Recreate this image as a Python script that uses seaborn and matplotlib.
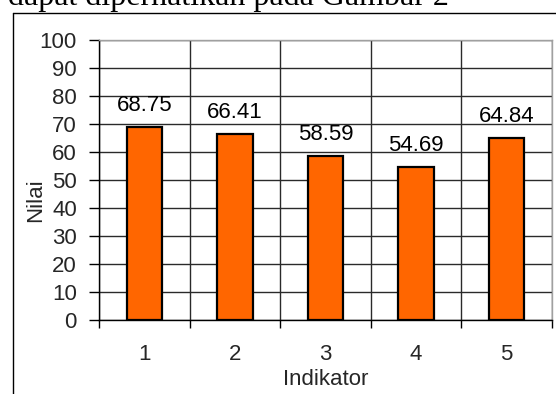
import matplotlib
matplotlib.use("Agg")
import matplotlib.pyplot as plt
import seaborn as sns
import pandas as pd
from matplotlib.lines import Line2D
from matplotlib.ticker import FixedLocator

indikator = ["1", "2", "3", "4", "5"]
nilai = [68.75, 66.41, 58.59, 54.69, 64.84]
y_ticks = [0, 10, 20, 30, 40, 50, 60, 70, 80, 90, 100]

sns.set_theme(style="white")
plt.rcParams["font.family"] = ["Liberation Sans", "DejaVu Sans"]

W, H = 556, 394
FS = 16
fig = plt.figure(figsize=(W / 100, H / 100), dpi=100)
ax = fig.add_axes([99 / W, 1 - 320 / H, (552 - 99) / W, (320 - 40) / H])

df = pd.DataFrame({"Indikator": indikator, "Nilai": nilai})
sns.barplot(data=df, x="Indikator", y="Nilai", color="#FF6600", width=0.39,
            edgecolor="black", linewidth=1.6, saturation=1, ax=ax, zorder=3)

ax.set_xlim(-0.5, len(indikator) - 0.5)
ax.set_ylim(0, 100)
ax.set_yticks(y_ticks)
ax.set_yticklabels([str(t) for t in y_ticks], fontsize=FS)

# category boundaries carry the tick marks and vertical grid lines
bounds = [i - 0.5 for i in range(len(indikator) + 1)]
ax.xaxis.set_minor_locator(FixedLocator(bounds))
ax.tick_params(axis="x", which="major", length=0, pad=17, labelsize=FS)
ax.tick_params(axis="x", which="minor", length=6, width=1, color="black",
               direction="out", bottom=True)
ax.tick_params(axis="y", which="major", length=7, width=1, color="black",
               direction="out", left=True, pad=9, labelsize=FS)

ax.grid(False)
ax.yaxis.grid(True, color="#2a2a2a", linewidth=1.0, zorder=0)
ax.xaxis.grid(True, which="minor", color="#2a2a2a", linewidth=1.0, zorder=0)
ax.set_axisbelow(True)

for side in ["left", "bottom"]:
    ax.spines[side].set_color("black")
    ax.spines[side].set_linewidth(1.0)
for side in ["top", "right"]:
    ax.spines[side].set_color("#a0a0a0")
    ax.spines[side].set_linewidth(1.0)

for i, v in enumerate(nilai):
    ax.annotate(f"{v:.2f}", (i, v), xytext=(0, 8), textcoords="offset points",
                ha="center", va="bottom", fontsize=FS, color="black")

ax.set_xlabel("Indikator", fontsize=FS)
ax.set_ylabel("Nilai", fontsize=FS)
ax.xaxis.set_label_coords(0.5, (320 - 369) / 280)
ax.yaxis.set_label_coords((46 - 99) / 453, (320 - 200) / 280)

# surrounding frame of the figure (left and top edges)
fig.add_artist(Line2D([12.5 / W, 12.5 / W], [0, 1 - 12.5 / H], color="black",
                      linewidth=1.0, transform=fig.transFigure))
fig.add_artist(Line2D([12.5 / W, 1], [1 - 12.5 / H, 1 - 12.5 / H], color="black",
                      linewidth=1.0, transform=fig.transFigure))

fig.text(8 / W, 1 - 5 / H, "dapat diperhatikan pada Gambar 2",
         family=["Liberation Serif", "DejaVu Serif"], fontsize=23,
         ha="left", va="baseline", color="black")

fig.savefig("out.png", dpi=100)
